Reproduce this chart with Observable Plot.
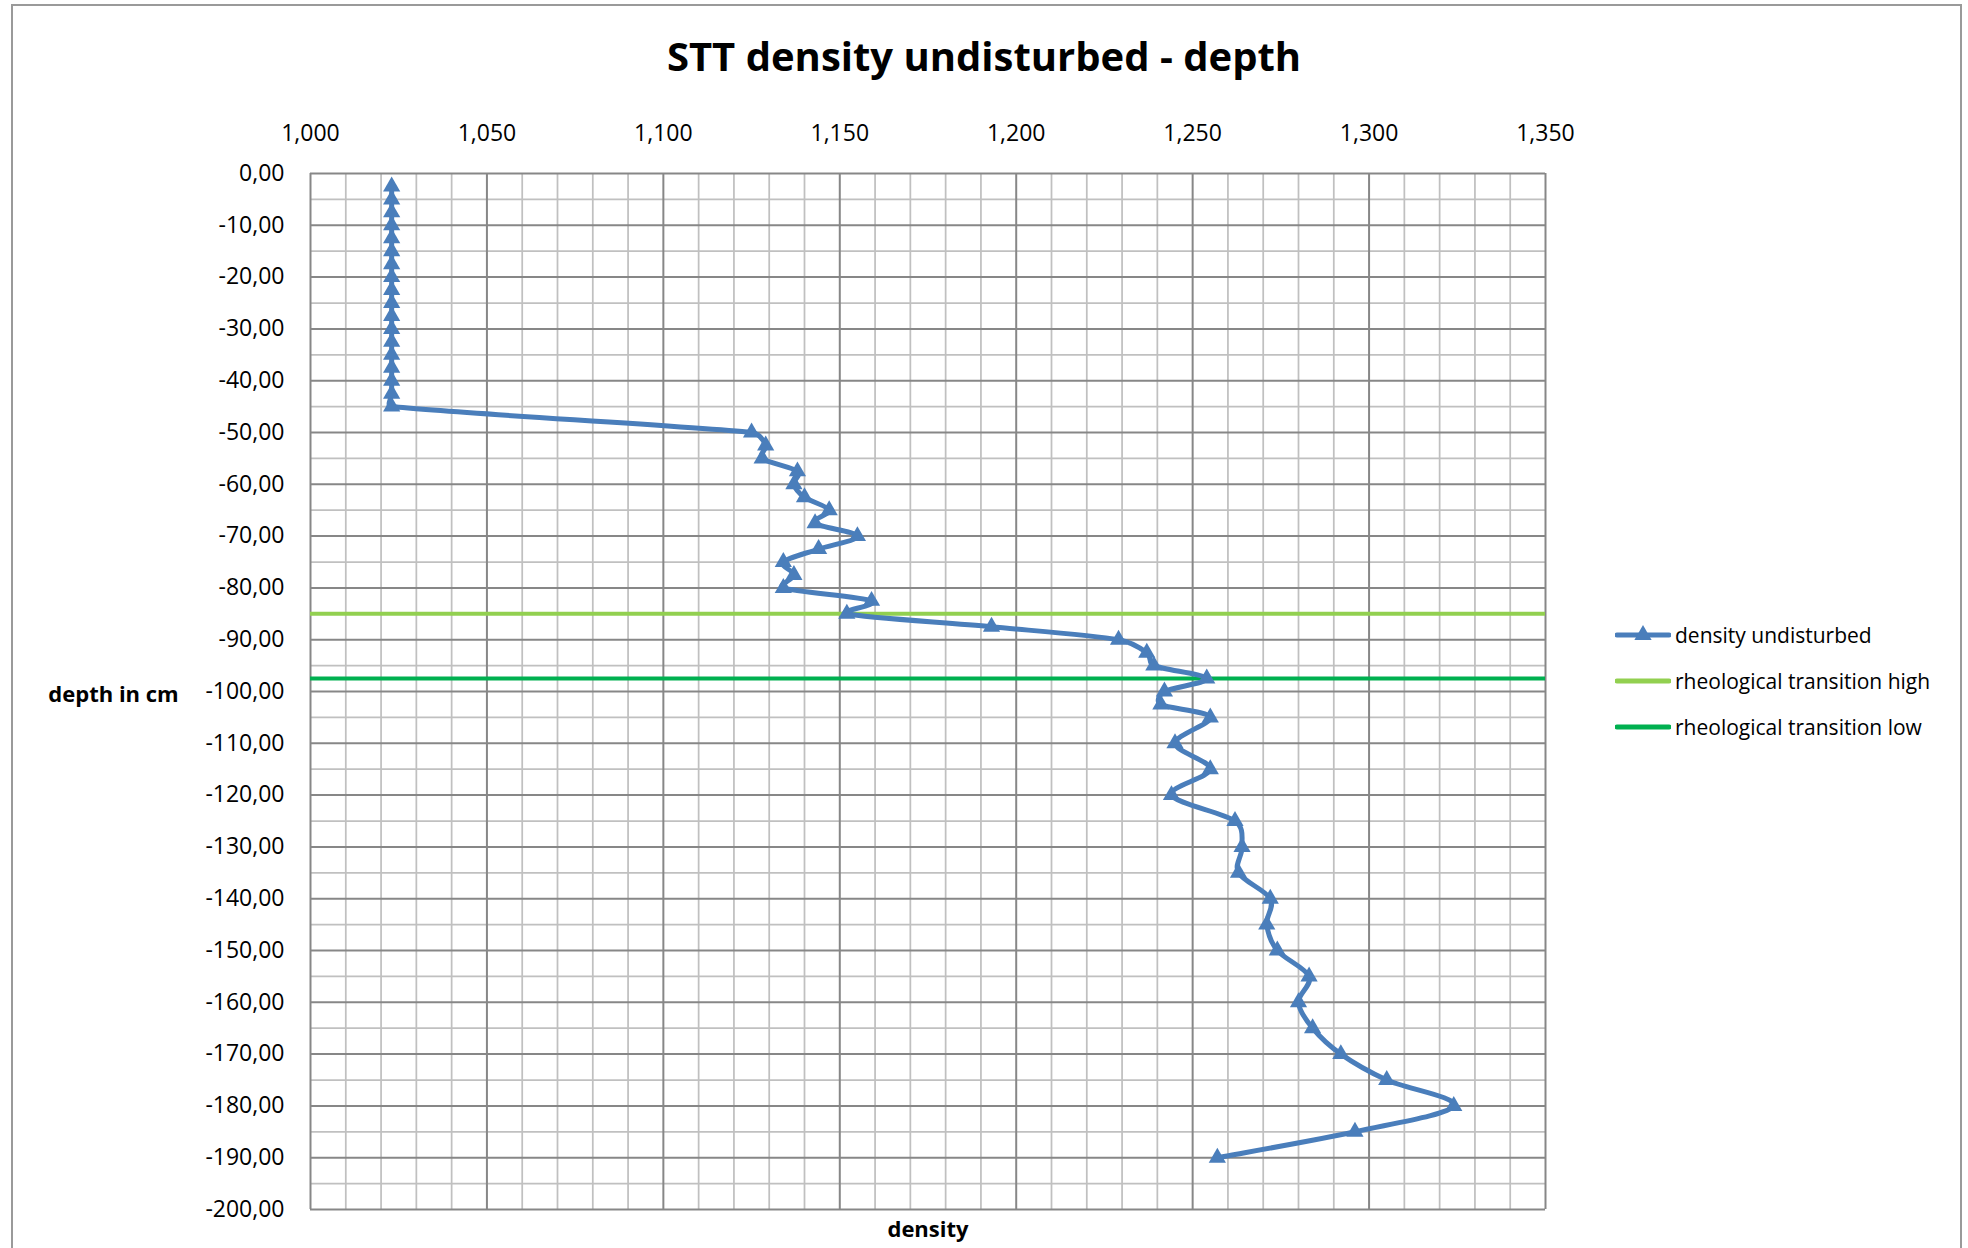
<!DOCTYPE html>
<html>
<head>
<meta charset="utf-8">
<script src="https://cdn.jsdelivr.net/npm/d3@7"></script>
<script src="https://cdn.jsdelivr.net/npm/@observablehq/plot@0.6"></script>
<style>
  html, body { margin: 0; padding: 0; background: #fff; overflow: hidden; width: 1968px; height: 1248px; }
  body { font-family: "Open Sans", "Noto Sans", sans-serif; color: #000; }
  #border { position: absolute; left: 11px; top: 4px; width: 1951px; height: 1320px; border: 2px solid #9a9a9a; box-sizing: border-box; }
  #title { position: absolute; left: 0; top: 36px; width: 1968px; text-align: center; font-weight: bold; font-size: 40px; line-height: 40px; white-space: nowrap; }
  #chart { position: absolute; left: 0; top: 100px; }
  #legend { position: absolute; left: 1615px; top: 612px; font-size: 21px; }
  .row { display: flex; align-items: center; height: 46px; white-space: nowrap; }
  .row svg { margin-right: 4px; }
</style>
</head>
<body>
<div id="border"></div>
<div id="title">STT density undisturbed - depth</div>
<div id="chart"></div>
<div id="legend"></div>
<script>
// ---- data ----
const depth = [
  -2.5, -5, -7.5, -10, -12.5, -15, -17.5, -20, -22.5, -25, -27.5, -30, -32.5, -35, -37.5, -40, -42.5, -45,
  -50, -52.5, -55, -57.5, -60, -62.5, -65, -67.5, -70, -72.5, -75, -77.5, -80, -82.5, -85, -87.5, -90, -92.5, -95, -97.5, -100, -102.5, -105,
  -110, -115, -120, -125, -130, -135, -140, -145, -150, -155, -160, -165, -170, -175, -180, -185, -190
];
const densityUndisturbed = [
  1.023, 1.023, 1.023, 1.023, 1.023, 1.023, 1.023, 1.023, 1.023, 1.023, 1.023, 1.023, 1.023, 1.023, 1.023, 1.023, 1.023, 1.023,
  1.125, 1.129, 1.128, 1.138, 1.137, 1.140, 1.147, 1.143, 1.155, 1.144, 1.134, 1.137, 1.134, 1.159, 1.152, 1.193, 1.229, 1.237, 1.239, 1.254, 1.242, 1.241, 1.255,
  1.245, 1.255, 1.244, 1.262, 1.264, 1.263, 1.272, 1.271, 1.274, 1.283, 1.280, 1.284, 1.292, 1.305, 1.324, 1.296, 1.257
];
const transitionHigh = [-85];
const transitionLow = [-97.5];
const seriesNames = ["density undisturbed", "rheological transition high", "rheological transition low"];
const xTicks = [1.000, 1.050, 1.100, 1.150, 1.200, 1.250, 1.300, 1.350];
const yTicks = [0, -10, -20, -30, -40, -50, -60, -70, -80, -90, -100, -110, -120, -130, -140, -150, -160, -170, -180, -190, -200];
const xMinor = d3.range(100, 136).map(v => v / 100).filter(v => Math.round(v * 100) % 5 !== 0);
const yMinor = d3.range(-195, 0, 10);

// ---- styling ----
const blue = "#4A7EBB";
const lightGreen = "#92D050";
const darkGreen = "#00B050";
const majorGrid = "#878787";
const minorGrid = "#C0C0C0";

const locale = d3.formatLocale({decimal: ",", thousands: ".", grouping: [3], currency: ["", ""], minus: "-"});
const fmtX = locale.format(".3f");
const fmtY = locale.format(".2f");

// Spreadsheet-style smoothed line: Catmull-Rom Bezier whose control handles
// are limited by the length of the segment they belong to.
function smoothCurve(context) {
  let pts = [];
  return {
    areaStart() {}, areaEnd() {},
    lineStart() { pts = []; },
    point(x, y) { pts.push([+x, +y]); },
    lineEnd() {
      const n = pts.length;
      if (!n) return;
      context.moveTo(pts[0][0], pts[0][1]);
      if (n === 1) return;
      const clamp = (t, len) => {
        const m = Math.hypot(t[0], t[1]);
        const lim = len * 0.45;
        return m > lim && m > 0 ? [t[0] * lim / m, t[1] * lim / m] : t;
      };
      for (let i = 0; i < n - 1; i++) {
        const p0 = pts[Math.max(0, i - 1)], p1 = pts[i], p2 = pts[i + 1], p3 = pts[Math.min(n - 1, i + 2)];
        const len = Math.hypot(p2[0] - p1[0], p2[1] - p1[1]);
        const t1 = clamp([(p2[0] - p0[0]) / 6, (p2[1] - p0[1]) / 6], len);
        const t2 = clamp([(p3[0] - p1[0]) / 6, (p3[1] - p1[1]) / 6], len);
        context.bezierCurveTo(p1[0] + t1[0], p1[1] + t1[1], p2[0] - t2[0], p2[1] - t2[1], p2[0], p2[1]);
      }
    }
  };
}

const data = depth.map((d, i) => ({depth: d, density: densityUndisturbed[i]}));

const chart = Plot.plot({
  width: 1968,
  height: 1148,
  marginTop: 73,
  marginBottom: 39,
  marginLeft: 310,
  marginRight: 423,
  style: {fontFamily: "'Open Sans', 'Noto Sans', sans-serif", fontSize: "23px", color: "#000", background: "transparent", overflow: "visible"},
  x: {domain: [1.0, 1.35]},
  y: {domain: [-200, 0]},
  marks: [
    Plot.ruleX(xMinor, {stroke: minorGrid, strokeWidth: 1.75}),
    Plot.ruleY(yMinor, {stroke: minorGrid, strokeWidth: 1.75}),
    Plot.ruleX(xTicks, {stroke: majorGrid, strokeWidth: 2}),
    Plot.ruleY(yTicks, {stroke: majorGrid, strokeWidth: 2}),
    Plot.axisX({anchor: "top", ticks: xTicks, tickFormat: fmtX, tickSize: 0, tickPadding: 33, label: null}),
    Plot.axisY({anchor: "left", ticks: yTicks, tickFormat: fmtY, tickSize: 0, tickPadding: 26, label: null}),
    Plot.ruleY(transitionHigh, {stroke: lightGreen, strokeWidth: 4}),
    Plot.ruleY(transitionLow, {stroke: darkGreen, strokeWidth: 4}),
    Plot.line(data, {x: "density", y: "depth", stroke: blue, strokeWidth: 5, curve: smoothCurve, strokeLinejoin: "round"}),
    Plot.dot(data, {x: "density", y: "depth", symbol: "triangle", r: 6.4, fill: blue, stroke: "none"}),
    Plot.text(["depth in cm"], {text: d => d, frameAnchor: "left", textAnchor: "middle", dx: -197, dy: 3, fontWeight: "bold", fontSize: 22}),
    Plot.text(["density"], {text: d => d, frameAnchor: "bottom", textAnchor: "middle", dy: 27, fontWeight: "bold", fontSize: 22})
  ]
});
document.getElementById("chart").appendChild(chart);

// ---- legend ----
const legend = d3.select("#legend");
const swatches = [
  {name: seriesNames[0], color: blue, marker: true},
  {name: seriesNames[1], color: lightGreen, marker: false},
  {name: seriesNames[2], color: darkGreen, marker: false}
];
swatches.forEach(s => {
  const row = legend.append("div").attr("class", "row");
  const svg = row.append("svg").attr("width", 56).attr("height", 24);
  svg.append("line").attr("x1", 2).attr("x2", 54).attr("y1", 12).attr("y2", 12)
    .attr("stroke", s.color).attr("stroke-width", 5).attr("stroke-linecap", "round");
  if (s.marker) {
    svg.append("path").attr("transform", "translate(28,12)")
      .attr("d", d3.symbol(d3.symbolTriangle, Math.PI * 6.4 * 6.4)()).attr("fill", s.color);
  }
  row.append("span").text(s.name);
});
</script>
</body>
</html>
